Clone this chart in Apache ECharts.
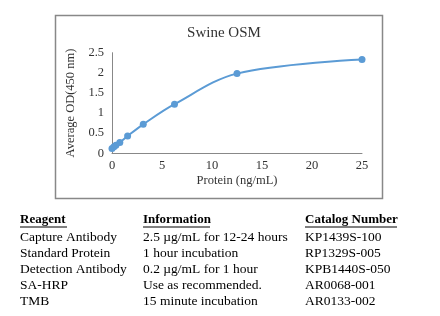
<!DOCTYPE html>
<html><head><meta charset="utf-8">
<script src="https://cdn.jsdelivr.net/npm/echarts@6/dist/echarts.min.js"></script>
<style>html,body{margin:0;padding:0;background:#fff;}#c{width:440px;height:316px;}</style>
</head><body><div id="c"></div>
<script>
var concentrations = [0, 0.195, 0.39, 0.78, 1.56, 3.125, 6.25, 12.5, 25];
var odValues = [0.12, 0.16, 0.2, 0.27, 0.43, 0.72, 1.22, 1.98, 2.33];
var chartTitle = 'Swine OSM';
var xAxisName = 'Protein (ng/mL)';
var yAxisName = 'Average OD(450 nm)';
var tableHeaders = ['Reagent', 'Information', 'Catalog Number'];
var reagents = ['Capture Antibody', 'Standard Protein', 'Detection Antibody', 'SA-HRP', 'TMB'];
var information = ['2.5 µg/mL for 12-24 hours', '1 hour incubation', '0.2 µg/mL for 1 hour', 'Use as recommended.', '15 minute incubation'];
var catalogNumbers = ['KP1439S-100', 'RP1329S-005', 'KPB1440S-050', 'AR0068-001', 'AR0133-002'];

var font = '"Liberation Serif", "DejaVu Serif", serif';
var colX = [20, 143, 305];
var headerY = 220, rowY0 = 237, rowStep = 16;

var graphics = [
  {type: 'rect', shape: {x: 55.5, y: 15.5, width: 327, height: 183}, style: {fill: null, stroke: '#888', lineWidth: 1.5}, silent: true}
];
tableHeaders.forEach(function (h, i) {
  graphics.push({type: 'text', x: colX[i], y: headerY, style: {text: h, font: 'bold 13px ' + font, fill: '#000', textVerticalAlign: 'middle'}});
});
var underlineW = [47, 67, 92];
tableHeaders.forEach(function (h, i) {
  graphics.push({type: 'line', shape: {x1: colX[i], y1: headerY + 7, x2: colX[i] + underlineW[i], y2: headerY + 7}, style: {stroke: '#000', lineWidth: 1}});
});
var cols = [reagents, information, catalogNumbers];
cols.forEach(function (col, ci) {
  col.forEach(function (t, ri) {
    graphics.push({type: 'text', x: colX[ci], y: rowY0 + ri * rowStep, style: {text: t, font: '13.5px ' + font, fill: '#000', textVerticalAlign: 'middle'}});
  });
});

var chart = echarts.init(document.getElementById('c'));
chart.setOption({
  animation: false,
  title: {text: chartTitle, left: 219, top: 21, textAlign: 'center', textStyle: {fontFamily: font, fontSize: 15, fontWeight: 'normal', color: '#333'}},
  grid: {left: 112, right: 78, top: 52.7, bottom: 162.7},
  xAxis: {
    type: 'value', min: 0, max: 25, interval: 5,
    name: xAxisName, nameLocation: 'middle', nameGap: 21,
    nameTextStyle: {fontFamily: font, fontSize: 12.5, color: '#333'},
    axisLine: {show: true, lineStyle: {color: '#888', width: 1}},
    axisTick: {show: false}, splitLine: {show: false},
    axisLabel: {fontFamily: font, fontSize: 12.5, color: '#333', margin: 6}
  },
  yAxis: {
    type: 'value', min: 0, max: 2.5, interval: 0.5,
    name: yAxisName, nameLocation: 'middle', nameGap: 27,
    nameTextStyle: {fontFamily: font, fontSize: 12.5, color: '#333'},
    axisLine: {show: true, lineStyle: {color: '#888', width: 1}},
    axisTick: {show: false}, splitLine: {show: false},
    axisLabel: {fontFamily: font, fontSize: 12.5, color: '#333', margin: 8}
  },
  series: [{
    type: 'line',
    data: concentrations.map(function (c, i) { return [c, odValues[i]]; }),
    smooth: 0.35,
    symbol: 'circle', symbolSize: 7,
    itemStyle: {color: '#5B9BD5'},
    lineStyle: {color: '#5B9BD5', width: 2}
  }],
  graphic: graphics
});
</script></body></html>
